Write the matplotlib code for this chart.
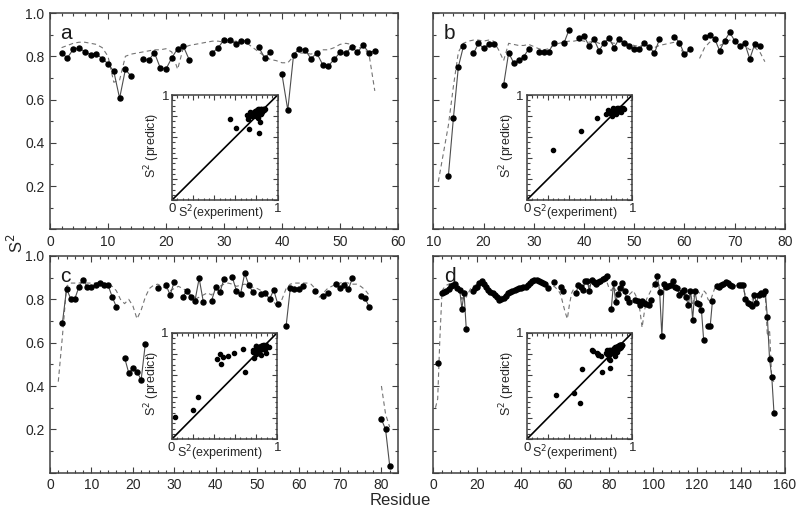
import matplotlib
matplotlib.use("Agg")
import matplotlib.pyplot as plt
import numpy as np
from matplotlib.ticker import MultipleLocator, FuncFormatter

nan = np.nan
plt.rcParams["font.family"] = ["Liberation Sans", "DejaVu Sans"]

## data: measured S2 (points) and predicted S2 (dashed) per residue
res_a = np.arange(2, 57)
exp_a = [0.814, 0.793, 0.832, 0.839, 0.821, 0.808, 0.811, 0.789, 0.766, 0.730,
         0.606, 0.739, 0.707, nan, 0.787, 0.781, 0.817, 0.747, 0.741, 0.793,
         0.835, 0.846, 0.784, nan, nan, nan, 0.817, 0.839, 0.877, 0.874,
         0.858, 0.872, 0.872, nan, 0.842, 0.793, 0.818, nan, 0.716, 0.551,
         0.808, 0.835, 0.829, 0.789, 0.815, 0.762, 0.756, 0.786, 0.818, 0.814,
         0.843, 0.820, 0.850, 0.817, 0.825]
pred_a = [0.84, 0.85, 0.86, 0.865, 0.865, 0.86, 0.855, 0.84, 0.80, 0.68,
          0.69, 0.80, 0.81, 0.815, 0.82, 0.825, 0.83, 0.83, 0.835, 0.82,
          0.74, 0.84, 0.85, 0.855, 0.86, 0.865, 0.87, 0.87, 0.865, 0.865,
          0.87, 0.87, 0.86, 0.84, 0.82, 0.80, 0.785, 0.78, 0.77, 0.77,
          0.80, 0.815, 0.815, 0.81, 0.82, 0.83, 0.83, 0.84, 0.855, 0.86,
          0.855, 0.84, 0.84, 0.81, 0.64]

res_b = np.arange(11, 77)
exp_b = [nan, nan, 0.246, 0.513, 0.752, 0.846, nan, 0.813, 0.860, 0.837,
         0.855, 0.856, nan, 0.667, 0.816, 0.770, 0.781, 0.798, 0.834, nan,
         0.821, 0.821, 0.821, 0.863, nan, 0.860, 0.921, nan, 0.883, 0.894,
         0.849, 0.878, 0.826, 0.863, 0.884, 0.840, 0.881, 0.860, 0.848, 0.832,
         0.832, 0.860, 0.845, 0.813, 0.878, nan, nan, 0.891, 0.863, 0.809,
         0.832, nan, nan, 0.891, 0.897, 0.881, 0.826, 0.872, 0.910, 0.872,
         0.848, 0.860, 0.788, 0.858, 0.848, nan]
pred_b = [0.22, 0.35, 0.48, 0.66, 0.82, 0.86, 0.87, 0.875, 0.875, 0.87,
          0.875, 0.87, 0.83, 0.78, 0.86, 0.855, 0.85, 0.85, 0.855, 0.845,
          0.835, 0.83, 0.835, 0.85, 0.86, 0.865, 0.87, 0.87, 0.875, 0.87,
          0.865, 0.87, 0.86, 0.855, 0.865, 0.86, 0.87, 0.865, 0.855, 0.85,
          0.845, 0.855, 0.845, 0.84, 0.85, 0.855, 0.86, 0.865, 0.85, 0.80,
          0.83, nan, 0.79, 0.84, 0.865, 0.87, 0.85, 0.86, 0.875, 0.87,
          0.855, 0.85, 0.83, 0.84, 0.82, 0.775]

res_c = np.arange(2, 83)
exp_c = [nan, 0.692, 0.848, 0.803, 0.803, 0.858, 0.889, 0.858, 0.858, 0.866,
         0.877, 0.866, 0.866, 0.812, 0.766, nan, 0.531, 0.461, 0.482, 0.466,
         0.428, 0.593, nan, nan, 0.851, nan, 0.866, 0.820, 0.882, nan,
         0.809, 0.840, 0.809, 0.794, 0.897, 0.789, nan, 0.794, 0.855, 0.832,
         0.894, nan, 0.902, 0.840, 0.825, 0.920, 0.866, 0.832, nan, 0.825,
         0.828, 0.801, 0.843, 0.777, nan, 0.678, 0.851, 0.848, 0.848, 0.863,
         nan, nan, 0.837, nan, 0.814, 0.828, nan, 0.871, 0.851, 0.866,
         0.846, 0.897, nan, 0.815, 0.808, 0.766, nan, nan, 0.246, 0.200,
         0.031]
pred_c = [0.42, 0.63, 0.86, 0.875, 0.875, 0.875, 0.88, 0.875, 0.875, 0.875,
          0.88, 0.875, 0.87, 0.86, 0.84, 0.80, 0.78, 0.80, 0.77, 0.71,
          0.75, 0.81, 0.85, 0.865, 0.87, 0.86, 0.85, 0.84, 0.85, 0.86,
          0.85, 0.84, 0.82, 0.80, 0.81, 0.82, 0.83, 0.82, 0.85, 0.86,
          0.87, 0.875, 0.87, 0.86, 0.865, 0.87, 0.865, 0.855, 0.85, 0.84,
          0.83, 0.80, 0.79, 0.76, 0.80, 0.85, 0.87, 0.875, 0.875, 0.875,
          0.875, 0.87, 0.85, 0.81, 0.83, 0.85, 0.86, 0.87, 0.875, 0.88,
          0.875, 0.87, 0.87, 0.86, 0.845, 0.82, nan, nan, 0.40, 0.27,
          0.21]

res_d = np.arange(1, 156)
exp_d = [nan, 0.505, nan, 0.830, 0.834, 0.840, 0.849, 0.860, 0.865, 0.870,
         0.852, 0.845, 0.757, 0.829, 0.665, nan, nan, 0.840, 0.850, 0.855,
         0.875, 0.886, 0.872, 0.855, 0.845, 0.835, 0.829, 0.820, 0.810, 0.798,
         0.800, 0.806, 0.815, 0.828, 0.833, 0.837, 0.843, 0.848, 0.852, 0.852,
         0.855, 0.859, 0.865, 0.874, 0.885, 0.889, 0.889, 0.885, 0.882, 0.875,
         0.870, 0.851, nan, nan, 0.880, nan, nan, 0.856, 0.840, nan,
         nan, nan, nan, nan, 0.829, 0.868, 0.855, 0.845, 0.886, 0.886,
         0.840, 0.890, 0.880, 0.871, 0.878, 0.885, 0.895, 0.900, 0.906, nan,
         0.757, 0.875, 0.788, 0.825, 0.850, 0.875, 0.840, 0.806, 0.788, nan,
         nan, 0.798, 0.790, 0.775, 0.790, 0.785, 0.780, 0.772, 0.798, nan,
         0.871, 0.906, 0.834, 0.629, 0.871, 0.856, 0.860, 0.865, 0.883, 0.856,
         0.850, 0.822, 0.835, 0.845, 0.810, 0.772, 0.840, 0.706, 0.840, 0.783,
         0.780, 0.750, 0.614, nan, 0.676, 0.678, 0.791, nan, 0.860, 0.855,
         0.865, 0.872, 0.880, 0.875, 0.868, 0.860, nan, nan, 0.868, 0.868,
         0.868, 0.803, 0.783, 0.780, 0.768, 0.819, 0.783, 0.822, 0.830, 0.826,
         0.840, 0.717, 0.523, 0.443, 0.277]
pred_d = [0.30, 0.34, 0.62, 0.84, 0.855, 0.865, 0.87, 0.875, 0.87, 0.86,
          0.85, 0.84, 0.80, 0.84, 0.81, 0.83, 0.85, 0.86, 0.865, 0.87,
          0.875, 0.88, 0.87, 0.86, 0.85, 0.84, 0.83, 0.82, 0.815, 0.81,
          0.815, 0.82, 0.825, 0.83, 0.835, 0.84, 0.845, 0.85, 0.855, 0.86,
          0.86, 0.865, 0.87, 0.875, 0.88, 0.885, 0.885, 0.88, 0.875, 0.87,
          0.865, 0.855, 0.85, 0.855, 0.86, 0.85, 0.84, 0.82, 0.78, 0.74,
          0.71, 0.78, 0.83, 0.85, 0.86, 0.865, 0.86, 0.855, 0.87, 0.875,
          0.86, 0.87, 0.875, 0.875, 0.88, 0.88, 0.885, 0.885, 0.88, 0.85,
          0.84, 0.86, 0.84, 0.85, 0.86, 0.86, 0.85, 0.83, 0.82, 0.83,
          0.84, 0.82, 0.80, 0.75, 0.67, 0.74, 0.80, 0.82, 0.84, 0.86,
          0.875, 0.88, 0.86, 0.83, 0.86, 0.865, 0.87, 0.87, 0.875, 0.865,
          0.86, 0.85, 0.85, 0.85, 0.83, 0.80, 0.83, 0.78, 0.84, 0.84,
          0.83, 0.81, 0.84, 0.83, 0.80, 0.79, 0.82, 0.85, 0.86, 0.865,
          0.87, 0.875, 0.875, 0.87, 0.865, 0.86, 0.86, 0.865, 0.87, 0.865,
          0.85, 0.82, 0.80, 0.79, 0.80, 0.81, 0.82, 0.83, 0.84, 0.84,
          0.83, 0.63, 0.66, 0.43, 0.42]

frame_col = "0.25"


def style_axes(ax, xmajor, xminor, ymajor, yminor, lmaj, lmin):
    ax.xaxis.set_major_locator(MultipleLocator(xmajor))
    ax.xaxis.set_minor_locator(MultipleLocator(xminor))
    ax.yaxis.set_major_locator(MultipleLocator(ymajor))
    ax.yaxis.set_minor_locator(MultipleLocator(yminor))
    ax.tick_params(which="both", direction="in", top=True, right=True,
                   color=frame_col, width=0.8)
    ax.tick_params(which="major", length=lmaj)
    ax.tick_params(which="minor", length=lmin)
    for s in ax.spines.values():
        s.set_color(frame_col)
        s.set_linewidth(1.1)


def draw_panel(rect, res, exp, pred, xlim, xmajor, letter, ylab):
    ax = fig.add_axes(rect)
    ax.plot(res, pred, ls=(0, (4, 3)), color="0.45", lw=0.8)
    ax.plot(res, exp, "-", color="0.3", lw=0.8, marker="o", ms=3.6,
            mfc="k", mec="k")
    ax.set_xlim(*xlim)
    ax.set_ylim(0, 1)
    style_axes(ax, xmajor, xmajor / 5, 0.2, 0.1, 4, 2)
    ax.tick_params(labelsize=10, pad=4, labelcolor="0.15")
    if ylab:
        ax.yaxis.set_major_formatter(
            FuncFormatter(lambda v, _: "" if v < 0.01 else f"{v:.1f}"))
    else:
        ax.set_yticklabels([])
    if xlim[0] == 0 and ylab:
        ax.get_xticklabels()[0].set_horizontalalignment("right")
    ax.text(0.03, 0.95, letter, transform=ax.transAxes, fontsize=15,
            va="top", ha="left", color="0.1")
    return ax


def draw_inset(rect, exp, pred):
    ins = fig.add_axes(rect)
    e = np.array(exp)
    p = np.array(pred)
    ok = ~np.isnan(e) & ~np.isnan(p)
    ins.plot([0, 1], [0, 1], color="k", lw=1.2)
    ins.plot(e[ok], p[ok], "o", ms=3.0, color="k")
    ins.set_xlim(0, 1)
    ins.set_ylim(0, 1)
    style_axes(ins, 0.2, 0.05, 0.2, 0.05, 3.5, 1.8)
    ins.xaxis.set_major_formatter(
        FuncFormatter(lambda v, _: "0" if v < 0.01 else ("1" if v > 0.99 else "")))
    ins.yaxis.set_major_formatter(
        FuncFormatter(lambda v, _: "1" if v > 0.99 else ""))
    ins.tick_params(labelsize=9.5, pad=2, labelcolor="0.15")
    ins.get_xticklabels()[0].set_horizontalalignment("right")
    ins.text(0.46, -0.035, "S$^2$(experiment)", transform=ins.transAxes,
             fontsize=9, ha="center", va="top", color="0.15")
    ins.text(-0.09, 0.52, "S$^2$ (predict)", transform=ins.transAxes,
             fontsize=9, ha="right", va="center", rotation=90, color="0.15")


fig = plt.figure(figsize=(8, 5.13), dpi=100)

draw_panel([0.0625, 0.553, 0.435, 0.4216], res_a, exp_a, pred_a, (0, 60), 10, "a", True)
draw_panel([0.5416, 0.553, 0.4396, 0.4216], res_b, exp_b, pred_b, (10, 80), 10, "b", False)
draw_panel([0.0625, 0.0786, 0.435, 0.4224], res_c, exp_c, pred_c, (0, 84), 10, "c", True)
draw_panel([0.5416, 0.0786, 0.4396, 0.4224], res_d, exp_d, pred_d, (0, 160), 20, "d", False)

draw_inset([0.215, 0.610, 0.132, 0.2047], exp_a, pred_a)
draw_inset([0.6584, 0.610, 0.132, 0.2047], exp_b, pred_b)
draw_inset([0.2146, 0.1437, 0.132, 0.2078], exp_c, pred_c)
draw_inset([0.6584, 0.1437, 0.132, 0.2078], exp_d, pred_d)

fig.text(0.02, 0.525, "S$^2$", rotation=90, fontsize=12, ha="center",
         va="center", color="0.15")
fig.text(0.5, 0.025, "Residue", fontsize=12, ha="center", va="center",
         color="0.15")

fig.savefig("out.png", dpi=100)
